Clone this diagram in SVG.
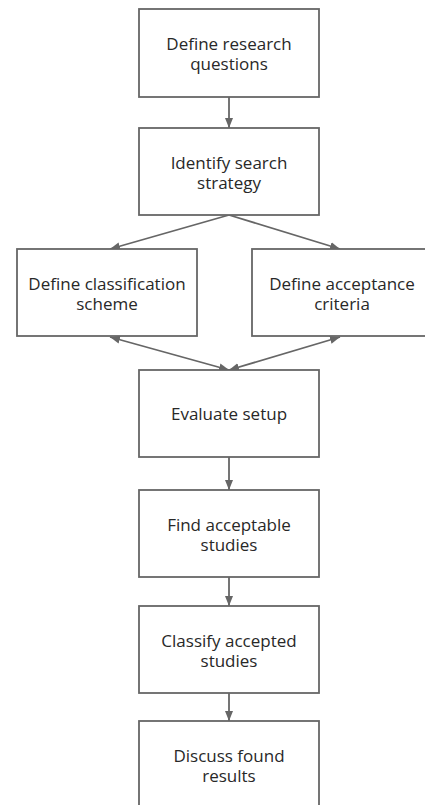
<svg xmlns="http://www.w3.org/2000/svg" width="425" height="805" viewBox="0 0 425 805">
<style>
.box{fill:#fff;stroke:#666;stroke-width:1.8}
.t{font-family:"Open Sans",sans-serif;font-size:17px;fill:#282828;text-anchor:middle}
.c{fill:none;stroke:#666;stroke-width:1.8}
</style>
<defs>
<marker id="ah" viewBox="0 0 10 10" refX="10" refY="5" markerWidth="10" markerHeight="10" markerUnits="userSpaceOnUse" orient="auto-start-reverse">
<path d="M0,1 L10,5 L0,9 Z" fill="#666"/>
</marker>
</defs>
<rect width="425" height="805" fill="#fff"/>
<g id="connectors">
<line class="c" x1="229" y1="97" x2="229" y2="128" marker-end="url(#ah)"/>
<line class="c" x1="229" y1="215" x2="110" y2="249" marker-end="url(#ah)"/>
<line class="c" x1="229" y1="215" x2="340" y2="249" marker-end="url(#ah)"/>
<line class="c" x1="110" y1="337" x2="229" y2="370" marker-start="url(#ah)" marker-end="url(#ah)"/>
<line class="c" x1="340" y1="337" x2="229" y2="370" marker-start="url(#ah)" marker-end="url(#ah)"/>
<line class="c" x1="229" y1="457" x2="229" y2="490" marker-end="url(#ah)"/>
<line class="c" x1="229" y1="577" x2="229" y2="606" marker-end="url(#ah)"/>
<line class="c" x1="229" y1="693" x2="229" y2="721" marker-end="url(#ah)"/>
</g>
<g id="n1"><rect class="box" x="139" y="9" width="180" height="88"/><text class="t" x="229" y="50">Define research<tspan x="229" dy="20">questions</tspan></text></g>
<g id="n2"><rect class="box" x="139" y="128" width="180" height="87"/><text class="t" x="229" y="169">Identify search<tspan x="229" dy="20">strategy</tspan></text></g>
<g id="n3"><rect class="box" x="17" y="249" width="180" height="87"/><text class="t" x="107" y="290">Define classification<tspan x="107" dy="20">scheme</tspan></text></g>
<g id="n4"><rect class="box" x="252" y="249" width="180" height="87"/><text class="t" x="342" y="290">Define acceptance<tspan x="342" dy="20">criteria</tspan></text></g>
<g id="n5"><rect class="box" x="139" y="370" width="180" height="87"/><text class="t" x="229" y="420">Evaluate setup</text></g>
<g id="n6"><rect class="box" x="139" y="490" width="180" height="87"/><text class="t" x="229" y="531">Find acceptable<tspan x="229" dy="20">studies</tspan></text></g>
<g id="n7"><rect class="box" x="139" y="606" width="180" height="87"/><text class="t" x="229" y="647">Classify accepted<tspan x="229" dy="20">studies</tspan></text></g>
<g id="n8"><rect class="box" x="139" y="721" width="180" height="88"/><text class="t" x="229" y="762">Discuss found<tspan x="229" dy="20">results</tspan></text></g>
</svg>
